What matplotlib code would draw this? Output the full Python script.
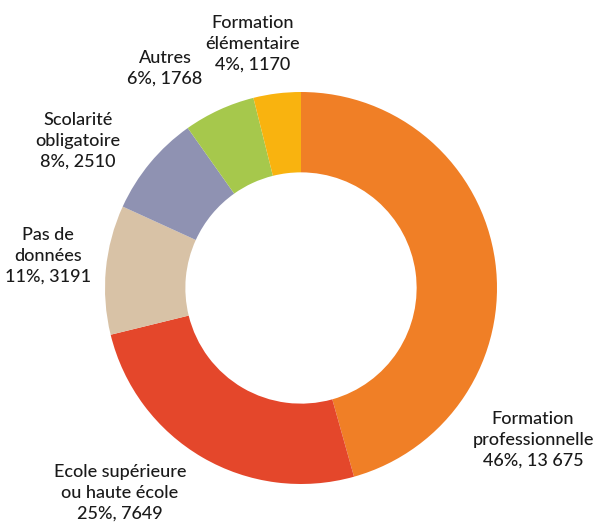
import matplotlib.pyplot as plt

# data
categories = ["Formation\nprofessionnelle", "Ecole supérieure\nou haute école", "Pas de\ndonnées",
              "Scolarité\nobligatoire", "Autres", "Formation\nélémentaire"]
values = [13675, 7649, 3191, 2510, 1768, 1170]
percents = [46, 25, 11, 8, 6, 4]
value_labels = ["13 675", "7649", "3191", "2510", "1768", "1170"]
colors = ["#F07F26", "#E4472B", "#D8C2A6", "#8F92B2", "#A6C84C", "#F9B30F"]

# label anchor positions (in units of the outer radius)
label_pos = [(1.184, -0.776), (-0.923, -1.046), (-1.291, 0.163),
             (-1.138, 0.75), (-0.694, 1.122), (-0.245, 1.245)]

plt.rcParams['font.family'] = ['Lato', 'DejaVu Sans']

fig = plt.figure(figsize=(5.96, 5.24), dpi=100)
ax = fig.add_axes([0, 0, 1, 1])

ax.pie(values, colors=colors, startangle=90, counterclock=False, radius=1.0,
       wedgeprops=dict(width=0.41, linewidth=0))

for cat, pct, vl, (x, y) in zip(categories, percents, value_labels, label_pos):
    ax.text(x, y, f"{cat}\n{pct}%, {vl}", ha="center", va="center",
            fontsize=13, color="#1a1a1a", linespacing=1.38, fontweight="medium")

# 196 px per unit, centre at (301, 288) px
ax.set_xlim(-301 / 196, (596 - 301) / 196)
ax.set_ylim(-(524 - 288) / 196, 288 / 196)
ax.set_aspect("auto")
ax.axis("off")

plt.savefig("out.png", dpi=100)
